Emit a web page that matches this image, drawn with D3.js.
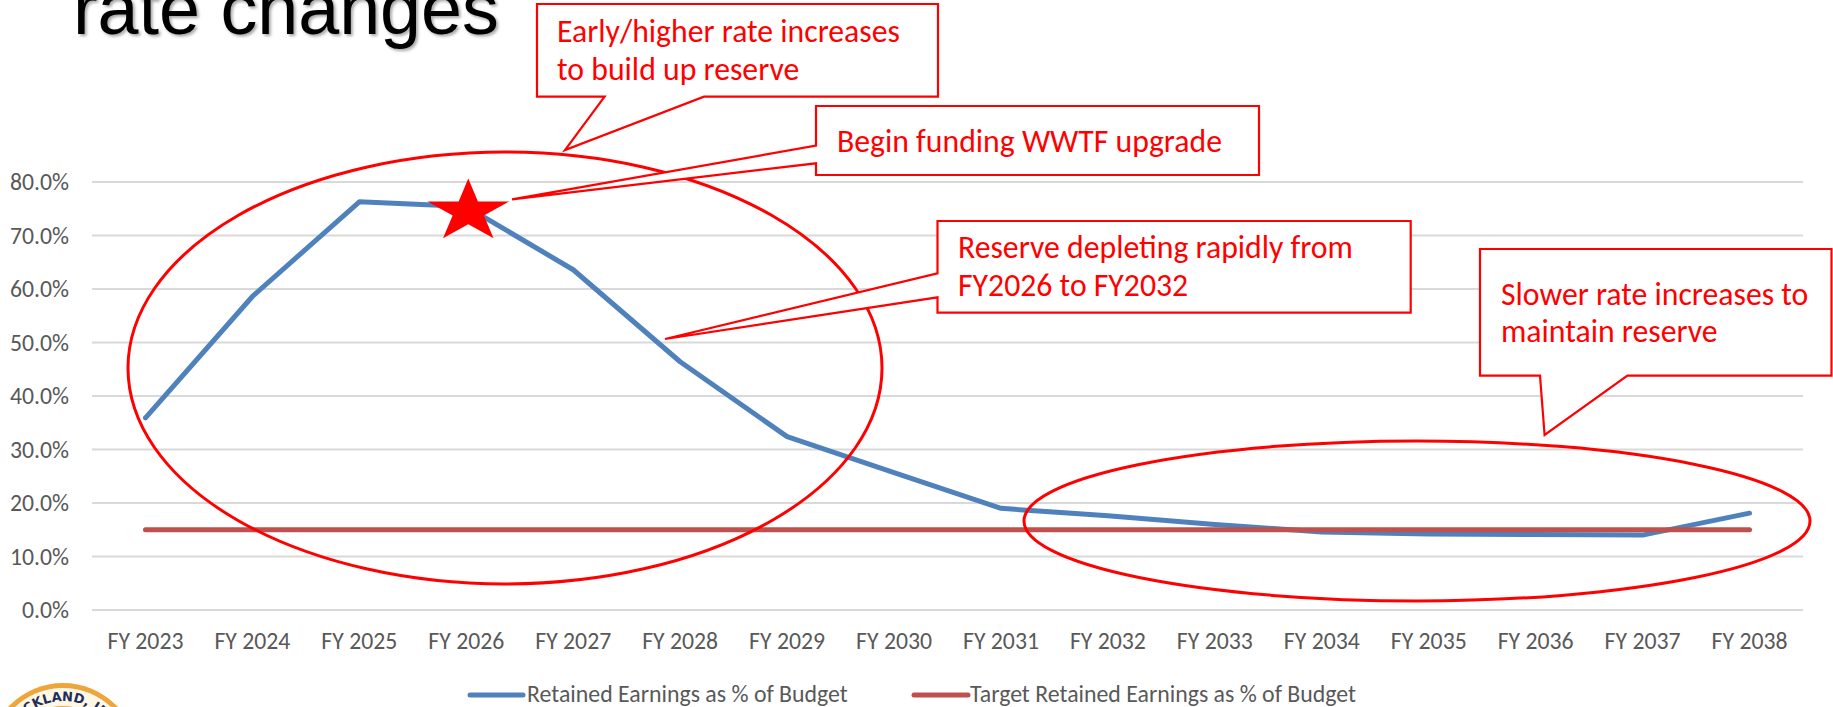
<!DOCTYPE html>
<html>
<head>
<meta charset="utf-8">
<script src="https://cdn.jsdelivr.net/npm/d3@7"></script>
<style>
  body { margin: 0; background: #fff; }
  svg { display: block; }
</style>
</head>
<body>
<div id="chart"></div>
<script>
const years = ['FY 2023', 'FY 2024', 'FY 2025', 'FY 2026', 'FY 2027', 'FY 2028', 'FY 2029', 'FY 2030',
  'FY 2031', 'FY 2032', 'FY 2033', 'FY 2034', 'FY 2035', 'FY 2036', 'FY 2037', 'FY 2038']

// retained earnings as % of budget
const retained = [35.9, 58.6, 76.3, 75.4, 63.6, 46.4, 32.4, 25.7, 19.0, 17.6, 16.0, 14.6, 14.2, 14.1, 14.0, 18.1]
const target = [15, 15, 15, 15, 15, 15, 15, 15, 15, 15, 15, 15, 15, 15, 15, 15]

const yTicks = [0, 10, 20, 30, 40, 50, 60, 70, 80]

const seriesNames = ['Retained Earnings as % of Budget', 'Target Retained Earnings as % of Budget']

const W = 1833
const H = 707
const plot = { left: 92, right: 1803, top: 182, bottom: 610 }
const labelFont = "Carlito, Calibri, Lato, 'Open Sans', sans-serif"

const svg = d3
  .select('#chart')
  .append('svg')
  .attr('width', W)
  .attr('height', H)

const defs = svg.append('defs')
const shadow = defs.append('filter').attr('id', 'shadow')
  .attr('x', '-10%').attr('y', '-10%').attr('width', '130%').attr('height', '140%')
shadow.append('feDropShadow')
  .attr('dx', 2).attr('dy', 2).attr('stdDeviation', 1.5)
  .attr('flood-color', '#000').attr('flood-opacity', 0.35)

// make a text (or a group of texts) match a measured width
function fitTo(sel, width) {
  const w = sel.node().getComputedTextLength()
  const fs = parseFloat(sel.attr('font-size'))
  return fs * width / w
}

const x = d3.scaleBand().domain(years).range([plot.left, plot.right])
const y = d3.scaleLinear().domain([0, 80]).range([plot.bottom, plot.top])
const cx = d => x(d) + x.bandwidth() / 2

// title (cut off at top of slide)
const title = svg.append('text')
  .attr('x', 73)
  .attr('y', 34)
  .attr('font-family', "'Liberation Sans', Arial, sans-serif")
  .attr('font-size', 74)
  .attr('fill', '#000')
  .attr('filter', 'url(#shadow)')
  .text('rate changes')
title.attr('font-size', fitTo(title, 426))

// gridlines
svg.append('g')
  .selectAll('line')
  .data(yTicks)
  .enter()
  .append('line')
  .attr('x1', plot.left)
  .attr('x2', plot.right)
  .attr('y1', d => y(d))
  .attr('y2', d => y(d))
  .attr('stroke', '#d9d9d9')
  .attr('stroke-width', 2)

// y labels
const yAxis = svg.append('g')
  .selectAll('text')
  .data(yTicks)
  .enter()
  .append('text')
  .attr('x', 69)
  .attr('y', d => y(d))
  .attr('dy', '0.35em')
  .attr('text-anchor', 'end')
  .attr('font-family', labelFont)
  .attr('font-size', 22)
  .attr('fill', '#595959')
  .text(d => d3.format('.1f')(d) + '%')
const ySize = fitTo(yAxis.filter(d => d === 80), 59)
yAxis.attr('font-size', ySize)

// x labels
const xAxis = svg.append('g')
  .selectAll('text')
  .data(years)
  .enter()
  .append('text')
  .attr('x', d => cx(d))
  .attr('y', 649)
  .attr('text-anchor', 'middle')
  .attr('font-family', labelFont)
  .attr('font-size', 22)
  .attr('fill', '#595959')
  .text(d => d)
xAxis.attr('font-size', fitTo(xAxis.filter((d, i) => i === 0), 76))

const line = d3.line()
  .x((d, i) => cx(years[i]))
  .y(d => y(d))

svg.append('path')
  .attr('d', line(retained))
  .attr('fill', 'none')
  .attr('stroke', '#4f81bd')
  .attr('stroke-width', 5)
  .attr('stroke-linejoin', 'round')
  .attr('stroke-linecap', 'round')

svg.append('path')
  .attr('d', line(target))
  .attr('fill', 'none')
  .attr('stroke', '#c0504d')
  .attr('stroke-width', 5)
  .attr('stroke-linecap', 'round')

// legend
const legendItems = [
  { name: seriesNames[0], color: '#4f81bd', x1: 470, x2: 523, tx: 527 },
  { name: seriesNames[1], color: '#c0504d', x1: 914, x2: 968, tx: 970 }
]
const legend = svg.append('g')
legend.selectAll('line')
  .data(legendItems)
  .enter()
  .append('line')
  .attr('x1', d => d.x1)
  .attr('x2', d => d.x2)
  .attr('y1', 695)
  .attr('y2', 695)
  .attr('stroke', d => d.color)
  .attr('stroke-width', 5)
  .attr('stroke-linecap', 'round')
const legendText = legend.selectAll('text')
  .data(legendItems)
  .enter()
  .append('text')
  .attr('x', d => d.tx)
  .attr('y', 702)
  .attr('font-family', labelFont)
  .attr('font-size', 22)
  .attr('fill', '#595959')
  .text(d => d.name)
legendText.attr('font-size', fitTo(legendText.filter((d, i) => i === 0), 321))

// ---- annotations ----
const red = '#ff0000'

// ellipses
svg.append('ellipse')
  .attr('cx', 505).attr('cy', 368).attr('rx', 377).attr('ry', 216)
  .attr('fill', 'none').attr('stroke', red).attr('stroke-width', 3)
svg.append('ellipse')
  .attr('cx', 1417).attr('cy', 521).attr('rx', 393).attr('ry', 80)
  .attr('fill', 'none').attr('stroke', red).attr('stroke-width', 3)

// star on FY 2026
const starPts = d3.range(10).map(i => {
  const a = -Math.PI / 2 + i * Math.PI / 5
  const r = i % 2 === 0 ? 1 : 0.382
  return [Math.cos(a) * r * 43, Math.sin(a) * r * 33]
})
svg.append('path')
  .attr('d', 'M' + starPts.join('L') + 'Z')
  .attr('transform', `translate(${cx('FY 2026') + 2},${y(retained[3]) + 5})`)
  .attr('fill', red)

// callout boxes
const callouts = [
  {
    path: [[537, 4], [938, 4], [938, 96.7], [704, 96.7], [565, 150], [604.6, 96.7], [537, 96.7]],
    lines: ['Early/higher rate increases', 'to build up reserve'],
    tx: 557, ty: [41.7, 80]
  },
  {
    path: [[816, 106], [1259, 106], [1259, 175], [816, 175], [816, 163.3], [512, 199.3], [816, 145.7]],
    lines: ['Begin funding WWTF upgrade'],
    tx: 837, ty: [151.7]
  },
  {
    path: [[937.5, 221], [1410.7, 221], [1410.7, 312.7], [937.5, 312.7], [937.5, 297.3], [665, 339], [937.5, 273.3]],
    lines: ['Reserve depleting rapidly from', 'FY2026 to FY2032'],
    tx: 958, ty: [258.3, 296]
  },
  {
    path: [[1480, 249], [1831.5, 249], [1831.5, 375.7], [1627.4, 375.7], [1544.6, 435], [1540, 375.7], [1480, 375.7]],
    lines: ['Slower rate increases to', 'maintain reserve'],
    tx: 1501, ty: [305, 341.7]
  }
]

const cg = svg.selectAll('.callout')
  .data(callouts)
  .enter()
  .append('g')
  .attr('class', 'callout')

cg.append('path')
  .attr('d', d => 'M' + d.path.join('L') + 'Z')
  .attr('fill', '#fff')
  .attr('stroke', red)
  .attr('stroke-width', 2.2)
  .attr('stroke-linejoin', 'miter')

const calloutText = cg.selectAll('text')
  .data(d => d.lines.map((t, i) => ({ t, x: d.tx, y: d.ty[i] })))
  .enter()
  .append('text')
  .attr('x', d => d.x)
  .attr('y', d => d.y)
  .attr('font-family', labelFont)
  .attr('font-size', 28)
  .attr('fill', red)
  .text(d => d.t)
calloutText.attr('font-size', fitTo(calloutText.filter(d => d.t === 'Early/higher rate increases'), 343))

// logo seal in lower left corner (mostly off slide)
const logo = svg.append('g').attr('transform', 'translate(63,758)')
logo.append('circle').attr('r', 75).attr('fill', '#eea53a')
logo.append('circle').attr('r', 70).attr('fill', '#fff8e6')
logo.append('circle').attr('r', 50).attr('fill', 'none').attr('stroke', '#eea53a').attr('stroke-width', 4)
defs.append('path').attr('id', 'sealArc')
  .attr('d', d3.arc()({ innerRadius: 0, outerRadius: 57, startAngle: -Math.PI / 2, endAngle: Math.PI / 2 }))
logo.append('path').attr('id', 'sealArc2')
  .attr('d', 'M -57,0 A 57 57 0 0 1 57 0')
  .attr('fill', 'none')
logo.append('text')
  .attr('font-family', "'DejaVu Sans', sans-serif")
  .attr('font-weight', 'bold')
  .attr('font-size', 13)
  .attr('fill', '#1f2d5c')
  .append('textPath')
  .attr('href', '#sealArc2')
  .attr('startOffset', '50%')
  .attr('text-anchor', 'middle')
  .text('ROCKLAND, INC.')
</script>
</body>
</html>
